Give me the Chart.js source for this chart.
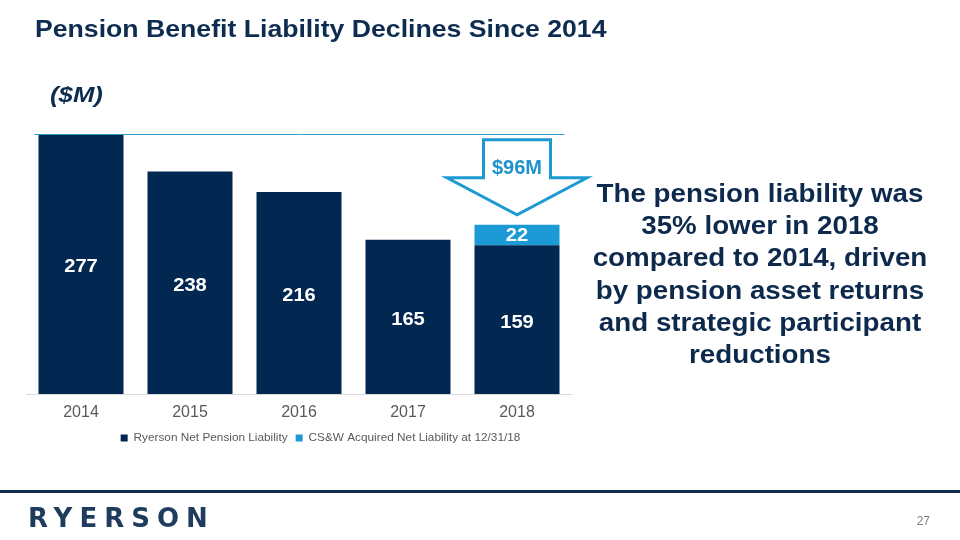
<!DOCTYPE html>
<html>
<head>
<meta charset="utf-8">
<script src="https://cdn.jsdelivr.net/npm/chart.js@4.4.1/dist/chart.umd.min.js"></script>
<style>
html,body{margin:0;padding:0;width:960px;height:540px;overflow:hidden;background:#fff;font-family:"Liberation Sans",Arial,sans-serif;}
#chart{position:absolute;left:0;top:0;}
#title{position:absolute;left:35px;top:17px;font-weight:bold;font-size:24px;line-height:24px;color:#0e2b50;white-space:nowrap;transform:scaleX(1.11);transform-origin:left top;}
#unit{position:absolute;left:50px;top:84px;font-weight:bold;font-style:italic;font-size:22px;line-height:22px;color:#0e2b50;white-space:nowrap;transform:scaleX(1.17);transform-origin:left top;}
#note{position:absolute;left:560px;top:177px;width:400px;text-align:center;font-weight:bold;font-size:25px;line-height:32.2px;color:#0d2a4d;white-space:nowrap;transform:scaleX(1.11);transform-origin:center top;}
#rule{position:absolute;left:0;top:490px;width:960px;height:3px;background:#0f2d4f;}
#logo{position:absolute;left:28px;top:505px;font-family:"DejaVu Sans",sans-serif;font-weight:bold;font-size:26px;line-height:26px;letter-spacing:7px;color:#1f3b5e;white-space:nowrap;}
#page{position:absolute;right:30px;top:514px;font-size:12px;line-height:14px;color:#7f7f7f;}
</style>
</head>
<body>
<canvas id="chart" width="960" height="540"></canvas>
<div id="title">Pension Benefit Liability Declines Since 2014</div>
<div id="unit">($M)</div>
<div id="note">The pension liability was<br>35% lower in 2018<br>compared to 2014, driven<br>by pension asset returns<br>and strategic participant<br>reductions</div>
<div id="rule"></div>
<div id="logo">RYERSON</div>
<div id="page">27</div>
<script>
const categories = ["2014", "2015", "2016", "2017", "2018"];
const seriesNames = ["Ryerson Net Pension Liability", "CS&W Acquired Net Liability at 12/31/18"];
const ryersonLiability = [277, 238, 216, 165, 159];
const cswAcquired = [null, null, null, null, 22];

const NAVY = "#022851";
const TEAL = "#1b9ad6";

Chart.defaults.font.family = '"Liberation Sans", Arial, sans-serif';

function totals() {
  return categories.map((c, i) => (ryersonLiability[i] || 0) + (cswAcquired[i] || 0));
}

const valueLabels = {
  id: "valueLabels",
  afterDatasetsDraw(chart) {
    const ctx = chart.ctx;
    chart.data.datasets.forEach((ds, di) => {
      const meta = chart.getDatasetMeta(di);
      const dy = di === 0 ? 3 : 0.5;
      meta.data.forEach((bar, i) => {
        const v = ds.data[i];
        if (v == null) return;
        ctx.save();
        ctx.fillStyle = "#ffffff";
        ctx.font = 'bold 18px "Liberation Sans", Arial, sans-serif';
        ctx.textAlign = "center";
        ctx.textBaseline = "middle";
        ctx.translate(bar.x, (bar.y + bar.base) / 2 + dy);
        ctx.scale(1.12, 1);
        ctx.fillText(String(v), 0, 0);
        ctx.restore();
      });
    });
  }
};

const annotations = {
  id: "annotations",
  afterDatasetsDraw(chart) {
    const ctx = chart.ctx;
    const x = chart.scales.x, y = chart.scales.y;
    const area = chart.chartArea;
    const t = totals();
    const first = t[0], last = t[t.length - 1];
    const ly = Math.round(y.getPixelForValue(first)) - 0.5;
    ctx.save();
    ctx.strokeStyle = "#2e9cc4";
    ctx.lineWidth = 1;
    ctx.beginPath();
    ctx.moveTo(area.left + 8, ly);
    ctx.lineTo(area.right - 7, ly);
    ctx.stroke();
    const cx = x.getPixelForValue(categories.length - 1);
    const tip = y.getPixelForValue(last) - 10;
    const sw = 33.5, hw = 70;
    ctx.beginPath();
    ctx.moveTo(cx - sw, tip - 75);
    ctx.lineTo(cx + sw, tip - 75);
    ctx.lineTo(cx + sw, tip - 37);
    ctx.lineTo(cx + hw, tip - 37);
    ctx.lineTo(cx, tip);
    ctx.lineTo(cx - hw, tip - 37);
    ctx.lineTo(cx - sw, tip - 37);
    ctx.closePath();
    ctx.fillStyle = "#ffffff";
    ctx.fill();
    ctx.lineWidth = 3;
    ctx.lineJoin = "miter";
    ctx.strokeStyle = "#1d9ad2";
    ctx.stroke();
    ctx.fillStyle = "#1f93cb";
    ctx.font = 'bold 20px "Liberation Sans", Arial, sans-serif';
    ctx.textAlign = "center";
    ctx.textBaseline = "middle";
    ctx.fillText("$" + (first - last) + "M", cx, tip - 46);
    ctx.restore();
  }
};

new Chart(document.getElementById("chart"), {
  type: "bar",
  data: {
    labels: categories,
    datasets: [
      { label: seriesNames[0], data: ryersonLiability, backgroundColor: NAVY, borderWidth: 0, categoryPercentage: 1, barPercentage: 0.78 },
      { label: seriesNames[1], data: cswAcquired, backgroundColor: TEAL, borderWidth: 0, categoryPercentage: 1, barPercentage: 0.78 }
    ]
  },
  options: {
    responsive: false,
    animation: false,
    devicePixelRatio: 1,
    layout: { padding: { left: 26.5, right: 345.5, top: 135, bottom: 86 } },
    plugins: {
      legend: {
        position: "bottom",
        labels: {
          boxWidth: 7, boxHeight: 7, padding: 8,
          color: "#595959",
          font: { size: 11.8 }
        }
      },
      tooltip: { enabled: false },
      title: { display: false }
    },
    scales: {
      x: {
        stacked: true,
        grid: { display: false, drawTicks: false },
        border: { display: true, color: "#d9d9d9", width: 1 },
        ticks: { color: "#595959", font: { size: 16 }, padding: 9 },
        afterFit(s) { s.height = s.height - 7; }
      },
      y: {
        stacked: true,
        display: false,
        min: 0,
        max: 277
      },
      y2: {
        position: "right",
        display: true,
        grid: { display: false, drawTicks: false },
        border: { display: false },
        ticks: { display: false },
        afterFit(s) { s.width = 43; }
      }
    }
  },
  plugins: [valueLabels, annotations]
});
</script>
</body>
</html>
